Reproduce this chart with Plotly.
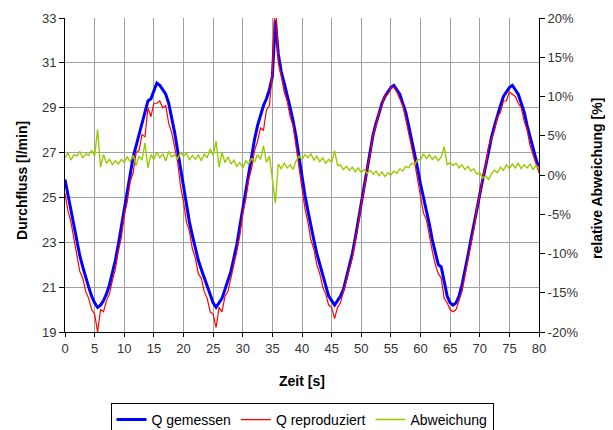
import plotly.graph_objects as go

# time axis in seconds (0.5 s steps)
zeit = [i * 0.5 for i in range(161)]

q_gemessen = [
    25.8, 25.1, 24.4, 23.7, 23.0, 22.4, 21.9, 21.4, 21.0, 20.6,
    20.3, 20.1, 20.2, 20.4, 20.7, 21.1, 21.6, 22.2, 22.9, 23.7,
    24.6, 25.4, 26.1, 26.8, 27.3, 27.8, 28.3, 28.9, 29.3, 29.4,
    29.8, 30.1, 30.0, 29.8, 29.6, 29.2, 28.6, 27.9, 27.1, 26.3,
    25.4, 24.6, 23.9, 23.3, 22.7, 22.2, 21.8, 21.4, 21.0, 20.6,
    20.3, 20.1, 20.3, 20.5, 20.9, 21.3, 21.7, 22.3, 22.9, 23.7,
    24.5, 25.4, 26.2, 26.9, 27.6, 28.2, 28.7, 29.1, 29.4, 29.8,
    30.4, 32.9, 31.4, 30.6, 30.1, 29.6, 29.0, 28.4, 27.7, 26.8,
    25.9, 25.1, 24.4, 23.7, 23.1, 22.5, 22.0, 21.5, 21.0, 20.6,
    20.4, 20.2, 20.4, 20.6, 20.9, 21.4, 21.9, 22.5, 23.2, 24.0,
    24.8, 25.6, 26.4, 27.1, 27.8, 28.3, 28.8, 29.2, 29.5, 29.7,
    29.9, 30.0, 29.8, 29.6, 29.2, 28.8, 28.2, 27.6, 27.0, 26.3,
    25.6, 25.0, 24.5, 23.8, 23.1, 22.5, 22.0, 21.9, 21.2, 20.6,
    20.3, 20.2, 20.3, 20.6, 21.1, 21.7, 22.4, 23.1, 23.8, 24.5,
    25.2, 25.8, 26.4, 27.1, 27.7, 28.2, 28.7, 29.1, 29.5, 29.7,
    29.9, 30.0, 29.8, 29.6, 29.2, 28.8, 28.2, 27.7, 27.1, 26.7,
    26.3,
]

q_reproduziert = [
    25.2, 24.4, 23.9, 23.1, 22.4, 21.7, 21.4, 20.8, 20.5, 20.0,
    19.8, 19.0, 20.0, 19.9, 20.4, 20.7, 21.3, 21.8, 22.6, 23.2,
    24.2, 24.8, 25.7, 26.1, 27.0, 27.1, 27.8, 27.7, 29.0, 28.6,
    29.2, 29.2, 29.3, 29.0, 29.1, 28.3, 27.9, 27.2, 26.6, 25.5,
    24.8, 23.9, 23.5, 22.7, 22.3, 21.6, 21.4, 20.8, 20.5, 19.9,
    19.8, 19.2, 20.1, 19.9, 20.6, 20.8, 21.4, 21.9, 22.6, 23.3,
    24.3, 24.9, 25.8, 26.3, 27.1, 27.5, 28.1, 28.0, 28.9, 29.1,
    30.6, 34.1, 31.0, 30.4, 29.7, 29.3, 28.6, 28.2, 27.2, 26.2,
    25.4, 24.5, 23.9, 23.1, 22.7, 22.0, 21.6, 21.0, 20.7, 20.2,
    20.1, 19.6, 20.1, 20.3, 20.8, 21.2, 21.8, 22.3, 23.1, 23.8,
    24.7, 25.4, 26.3, 26.9, 27.8, 28.2, 28.8, 29.1, 29.6, 29.6,
    29.9, 29.9, 29.7, 29.4, 29.1, 28.5, 27.9, 27.2, 26.6, 25.8,
    25.1, 24.3, 24.0, 23.2, 22.6, 22.0, 21.6, 21.4, 20.5, 20.3,
    20.0, 19.9, 20.0, 20.4, 20.8, 21.5, 22.2, 23.0, 23.6, 24.5,
    25.1, 25.9, 26.4, 27.3, 27.6, 28.0, 28.6, 28.8, 29.3, 29.3,
    29.7, 29.6, 29.5, 29.2, 29.0, 28.4, 28.0, 27.3, 26.9, 26.4,
    26.1,
]

abweichung = [
    2.2, 2.8, 1.9, 2.6, 2.4, 3.0, 2.2, 2.7, 2.5, 3.1,
    2.4, 5.8, 1.0, 2.6, 1.5, 2.0, 1.3, 1.8, 1.4, 2.0,
    1.6, 2.3, 1.7, 2.5, 1.2, 2.4, 1.9, 4.1, 0.9, 2.6,
    2.0, 2.9, 2.2, 2.7, 1.8, 3.0, 2.3, 2.6, 2.0, 2.9,
    2.4, 2.8, 1.9, 2.5, 2.0, 2.6, 1.8, 2.7, 2.2, 3.3,
    2.5, 4.3, 1.0, 2.9, 1.6, 2.3, 1.4, 1.9, 1.1, 1.6,
    0.9, 1.8, 1.4, 2.1, 1.7, 2.6, 2.0, 3.7, 1.6, 2.4,
    -0.5, -3.6, 1.4, 0.8, 1.5, 0.9, 1.3, 0.7, 1.8, 2.4,
    2.0, 2.6, 2.2, 2.7, 1.9, 2.4, 1.7, 2.2, 1.5, 2.0,
    1.6, 3.1, 1.2, 1.3, 0.7, 1.1, 0.6, 1.0, 0.4, 0.9,
    0.3, 0.7, 0.2, 0.6, 0.1, 0.5, -0.1, 0.4, -0.2, 0.3,
    0.0, 0.5, 0.2, 0.8, 0.5, 1.1, 0.9, 1.5, 1.3, 2.0,
    1.9, 2.7, 2.1, 2.6, 2.0, 2.4, 1.8, 2.3, 3.6, 1.3,
    1.6, 1.2, 1.5, 0.9, 1.3, 0.7, 1.1, 0.5, 0.8, 0.1,
    0.3, -0.4, -0.1, -0.6, 0.2, 0.6, 0.3, 1.0, 0.6, 1.3,
    0.8, 1.4, 0.9, 1.5, 0.8, 1.3, 0.9, 1.4, 0.7, 1.2,
    0.9,
]

x_ticks = list(range(0, 81, 5))
y_ticks = [19, 21, 23, 25, 27, 29, 31, 33]
y2_ticks = [-20, -15, -10, -5, 0, 5, 10, 15, 20]
y2_labels = ["-20%", "-15%", "-10%", "-5%", "0%", "5%", "10%", "15%", "20%"]

FONT = "Liberation Sans, Arial, sans-serif"

fig = go.Figure()
fig.add_trace(go.Scatter(x=zeit, y=q_gemessen, name="Q gemessen", mode="lines",
                         line=dict(color="#0000FF", width=3)))
fig.add_trace(go.Scatter(x=zeit, y=q_reproduziert, name="Q reproduziert", mode="lines",
                         line=dict(color="#FF0000", width=1.2)))
fig.add_trace(go.Scatter(x=zeit, y=abweichung, name="Abweichung", mode="lines",
                         line=dict(color="#99CC00", width=1.4), yaxis="y2"))

# page body has an 8px margin; the figure is laid out to compensate
fig.update_layout(
    width=605, height=444,
    margin=dict(l=57, r=74, t=10, b=120),
    paper_bgcolor="white", plot_bgcolor="white",
    font=dict(family=FONT, size=13, color="#333"),
    showlegend=True,
    legend=dict(orientation="h", x=0.5, xanchor="center", y=-0.226, yanchor="top",
                bordercolor="black", borderwidth=1, font=dict(size=14, color="black"),
                itemwidth=30, tracegroupgap=0),
    xaxis=dict(range=[0, 80], tickvals=x_ticks, showgrid=True, gridcolor="#A0A0A0",
               gridwidth=1, showline=True, linecolor="black", linewidth=1,
               ticks="outside", ticklen=4, tickcolor="black", zeroline=False,
               automargin=False),
    yaxis=dict(range=[19, 33], tickvals=y_ticks, showgrid=True, gridcolor="#A0A0A0",
               gridwidth=1, showline=True, linecolor="black", linewidth=1,
               ticks="outside", ticklen=5, tickcolor="black", zeroline=False,
               automargin=False),
    yaxis2=dict(range=[-20, 20], tickvals=y2_ticks, ticktext=y2_labels, overlaying="y",
                side="right", showgrid=False, showline=True, linecolor="black",
                linewidth=1, ticks="outside", ticklen=5, tickcolor="black",
                zeroline=False, automargin=False),
    annotations=[
        dict(text="<b>Durchfluss [l/min]</b>", xref="paper", yref="paper",
             x=-0.091, y=0.484, textangle=-90, showarrow=False,
             font=dict(size=14, color="black"), xanchor="center", yanchor="middle"),
        dict(text="<b>relative Abweichung [%]</b>", xref="paper", yref="paper",
             x=1.122, y=0.49, textangle=-90, showarrow=False,
             font=dict(size=14, color="black"), xanchor="center", yanchor="middle"),
        dict(text="<b>Zeit [s]</b>", xref="paper", yref="paper",
             x=0.5, y=-0.156, showarrow=False,
             font=dict(size=14, color="black"), xanchor="center", yanchor="middle"),
    ],
)

fig.write_html("out.html")
